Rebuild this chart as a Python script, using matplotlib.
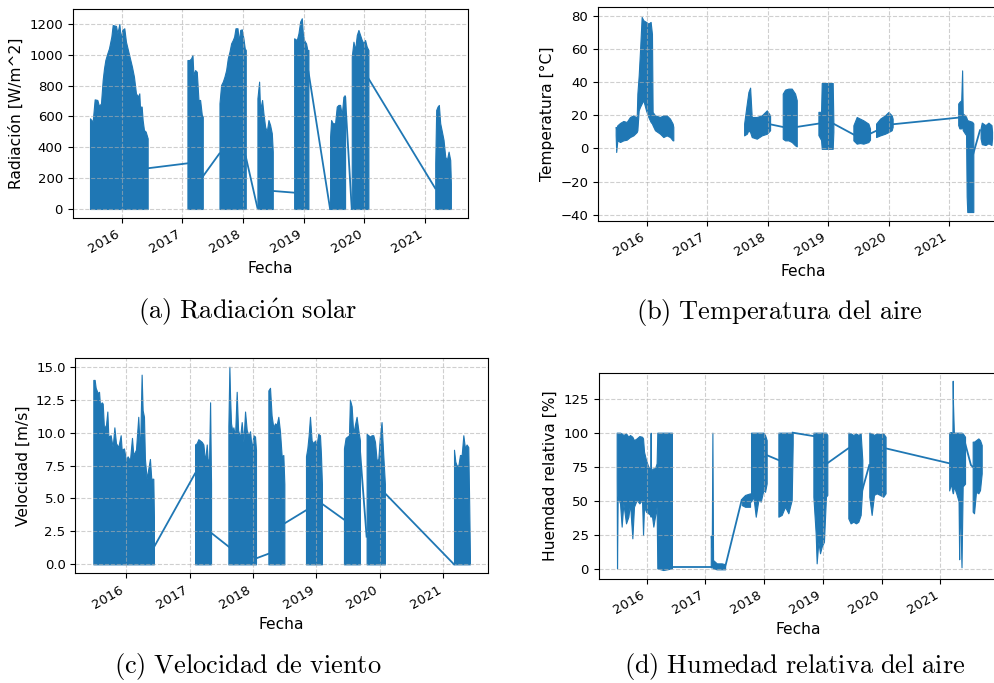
import matplotlib
matplotlib.use("Agg")
import matplotlib.pyplot as plt
import matplotlib.dates as mdates
from matplotlib.ticker import MultipleLocator
from datetime import datetime, timedelta

# (a) radiación solar : enveloppe haute (la basse est 0)
rad_seg_x = [
    [2015.478, 2015.522, 2015.555, 2015.599, 2015.626, 2015.659, 2015.687, 2015.709, 2015.731, 2015.764,
     2015.791, 2015.830, 2015.852, 2015.907, 2015.929, 2015.962, 2015.984, 2016.011, 2016.044, 2016.071,
     2016.104, 2016.137, 2016.170, 2016.203, 2016.236, 2016.269, 2016.291, 2016.302, 2016.330, 2016.346,
     2016.368, 2016.396, 2016.429],
    [2017.082, 2017.115, 2017.143, 2017.165, 2017.181, 2017.209, 2017.236, 2017.264, 2017.291, 2017.319, 2017.335],
    [2017.610, 2017.637, 2017.665, 2017.692, 2017.720, 2017.747, 2017.775, 2017.802, 2017.830, 2017.852,
     2017.874, 2017.907, 2017.929, 2017.951, 2017.978, 2018.005, 2018.027, 2018.044],
    [2018.236, 2018.264, 2018.280, 2018.313, 2018.335, 2018.363, 2018.390, 2018.418, 2018.445, 2018.473, 2018.489],
    [2018.841, 2018.885, 2018.912, 2018.940, 2018.967, 2018.984, 2019.005, 2019.038, 2019.060, 2019.077],
    [2019.434, 2019.451, 2019.478, 2019.516, 2019.544, 2019.571, 2019.599, 2019.626, 2019.654, 2019.681],
    [2019.791, 2019.819, 2019.846, 2019.874, 2019.901, 2019.929, 2019.956, 2019.984, 2020.011, 2020.038, 2020.066],
    [2021.165, 2021.181, 2021.203, 2021.225, 2021.247, 2021.275, 2021.302, 2021.330, 2021.357, 2021.385, 2021.412, 2021.423],
]
rad_seg_hi = [
    [588, 566, 711, 707, 668, 685, 837, 912, 966, 1010, 1042, 1118, 1193, 1187, 1139, 1200, 1107, 1161, 1172, 1085,
     1031, 977, 923, 858, 750, 729, 750, 664, 664, 577, 512, 502, 458],
    [966, 966, 977, 999, 869, 901, 890, 707, 707, 610, 600],
    [685, 804, 826, 858, 901, 977, 1020, 1074, 1096, 1118, 1172, 1172, 1085, 1161, 1165, 1107, 1042, 1031],
    [718, 826, 642, 707, 620, 534, 502, 577, 545, 491, 372],
    [1107, 1096, 1139, 1215, 1237, 1139, 1096, 1074, 1031, 1031],
    [469, 577, 556, 556, 664, 675, 675, 610, 729, 729],
    [988, 1085, 1031, 1128, 1161, 1128, 1096, 1074, 1096, 1053, 1031],
    [296, 642, 664, 675, 556, 502, 448, 339, 318, 372, 318, 166],
]
rad_link_x = [[2016.429, 2017.082], [2017.335, 2017.610], [2018.044, 2018.236], [2018.489, 2018.841],
              [2019.077, 2019.434], [2019.681, 2019.791], [2020.066, 2021.165]]
rad_link_y = [[264, 296], [210, 360], [340, 8], [117, 106], [891, 0], [730, 0], [847, 134]]

# (b) temperatura del aire
temp_seg_x = [
    [2015.487, 2015.496, 2015.515, 2015.559, 2015.614, 2015.669, 2015.724, 2015.779, 2015.835, 2015.846,
     2015.868, 2015.890, 2015.917, 2015.945, 2015.989, 2016.028, 2016.066, 2016.088, 2016.099, 2016.138,
     2016.221, 2016.276, 2016.331, 2016.386, 2016.430, 2016.441],
    [2017.610, 2017.654, 2017.681, 2017.709, 2017.736, 2017.819, 2017.902, 2017.985, 2018.040],
    [2018.249, 2018.288, 2018.343, 2018.398, 2018.453, 2018.481],
    [2018.839, 2018.883, 2018.894, 2019.076, 2019.087],
    [2019.418, 2019.473, 2019.528, 2019.583, 2019.666, 2019.693],
    [2019.793, 2019.860, 2019.941, 2019.997, 2020.052, 2020.068],
    [2021.150, 2021.170, 2021.200, 2021.215, 2021.225, 2021.260, 2021.280, 2021.290, 2021.300, 2021.380, 2021.400],
    [2021.520, 2021.540, 2021.600, 2021.650, 2021.700, 2021.710],
]
temp_seg_hi = [
    [12.9, 12.0, 13.9, 15.3, 16.5, 15.9, 18.9, 19.9, 18.5, 33.0, 44.0, 59.0, 79.2, 77.2, 76.2, 75.2, 76.2, 69.0,
     21.9, 19.9, 18.9, 19.9, 19.9, 17.9, 14.9, 12.9],
    [14.9, 27.0, 34.0, 36.6, 18.9, 18.9, 19.9, 22.9, 19.9],
    [33.0, 35.4, 36.0, 36.0, 33.0, 29.0],
    [22.0, 22.0, 39.4, 39.4, 16.0],
    [13.9, 18.9, 17.9, 16.9, 14.9, 11.9],
    [14.9, 17.9, 19.9, 21.9, 19.9, 17.9],
    [27.0, 28.0, 29.0, 47.0, 21.0, 20.0, 19.0, 18.0, 17.0, 16.0, 15.0],
    [12.0, 15.5, 14.0, 15.5, 14.0, 10.0],
]
temp_seg_lo = [
    [8.0, -2.2, 4.8, 3.8, 4.8, 5.2, 6.8, 7.8, 9.8, 10.9, 22.9, 25.0, 27.0, 29.0, 22.9, 18.9, 15.9, 14.9,
     13.9, 10.9, 8.8, 6.8, 7.8, 6.8, 4.8, 4.8],
    [7.8, 8.8, 10.9, 9.8, 6.8, 5.8, 7.8, 8.8, 10.9],
    [5.8, 4.8, 4.8, 3.8, 1.8, 1.2],
    [8.0, 5.0, -0.3, -0.3, 10.0],
    [4.8, 2.8, 3.2, 2.8, 3.8, 5.2],
    [6.8, 7.8, 8.8, 9.8, 10.9, 12.9],
    [14.0, 12.0, 12.0, 14.0, 11.0, 9.0, 8.0, -29.0, -38.4, -38.4, -38.4],
    [6.0, 2.5, 2.0, 3.0, 2.0, 6.0],
]
temp_link_x = [[2018.040, 2018.249], [2018.481, 2018.839], [2019.087, 2019.418], [2019.693, 2019.793],
               [2020.068, 2021.150], [2021.400, 2021.510]]
temp_link_y = [[14.5, 12.9], [12.9, 14.9], [14.9, 8.4], [8.8, 10.5], [14.5, 18.5], [-3.2, 10.9]]

# (c) velocidad de viento : enveloppe haute (la basse est 0)
wind_seg_x = [
    [2015.485, 2015.506, 2015.522, 2015.538, 2015.554, 2015.575, 2015.590, 2015.617, 2015.633, 2015.653,
     2015.685, 2015.706, 2015.722, 2015.758, 2015.790, 2015.817, 2015.842, 2015.879, 2015.916, 2015.932,
     2015.968, 2016.000, 2016.026, 2016.063, 2016.095, 2016.116, 2016.158, 2016.194, 2016.221, 2016.247,
     2016.263, 2016.284, 2016.299, 2016.326, 2016.378, 2016.399, 2016.431, 2016.441],
    [2017.087, 2017.113, 2017.139, 2017.166, 2017.192, 2017.218, 2017.245, 2017.271, 2017.287, 2017.308, 2017.324, 2017.339],
    [2017.612, 2017.628, 2017.639, 2017.654, 2017.675, 2017.691, 2017.717, 2017.743, 2017.765, 2017.796,
     2017.822, 2017.849, 2017.875, 2017.901, 2017.928, 2017.954, 2017.980, 2018.006, 2018.033, 2018.048],
    [2018.243, 2018.269, 2018.294, 2018.321, 2018.348, 2018.374, 2018.400, 2018.426, 2018.453, 2018.479, 2018.495],
    [2018.836, 2018.857, 2018.878, 2018.899, 2018.925, 2018.950, 2018.978, 2019.004, 2019.030, 2019.057, 2019.072, 2019.088],
    [2019.435, 2019.461, 2019.487, 2019.514, 2019.529, 2019.556, 2019.582, 2019.608, 2019.634, 2019.661, 2019.687],
    [2019.792, 2019.819, 2019.845, 2019.871, 2019.897, 2019.924, 2019.950, 2019.976, 2020.002, 2020.028, 2020.055, 2020.081],
    [2021.168, 2021.189, 2021.210, 2021.236, 2021.262, 2021.289, 2021.315, 2021.341, 2021.366, 2021.393, 2021.408, 2021.419],
]
wind_seg_hi = [
    [14.0, 14.0, 13.4, 13.2, 13.0, 13.1, 12.1, 12.3, 12.2, 10.3, 10.6, 11.6, 9.7, 9.8, 8.9, 10.4, 9.2, 8.9, 9.8, 8.7,
     8.8, 7.9, 8.2, 7.9, 9.6, 8.3, 8.7, 11.2, 8.4, 14.4, 11.7, 11.2, 8.0, 6.5, 8.0, 6.5, 6.5, 3.6],
    [9.1, 9.2, 9.5, 9.4, 9.3, 9.1, 7.8, 9.1, 7.9, 8.0, 12.3, 6.1],
    [10.5, 15.0, 12.7, 10.7, 10.1, 10.4, 9.7, 13.1, 10.2, 9.6, 10.8, 9.3, 11.6, 10.2, 9.8, 10.1, 8.7, 9.8, 9.7, 8.7],
    [13.2, 13.4, 11.3, 10.4, 10.7, 10.6, 11.2, 10.1, 8.2, 8.3, 6.1],
    [8.2, 8.8, 9.8, 11.2, 9.4, 9.2, 9.4, 9.1, 9.9, 9.8, 8.4, 6.1],
    [8.8, 9.6, 9.7, 9.8, 12.5, 12.0, 9.9, 10.6, 11.2, 10.2, 9.4],
    [9.9, 9.8, 9.7, 9.8, 9.8, 9.3, 7.9, 8.0, 9.7, 10.8, 8.3, 6.1],
    [8.7, 7.8, 7.5, 7.5, 8.3, 8.3, 9.8, 8.8, 9.1, 8.9, 4.4, 0.6],
]
wind_link_x = [[2016.441, 2017.087], [2017.339, 2017.628], [2018.048, 2018.243], [2018.495, 2018.836],
               [2019.088, 2019.435], [2019.687, 2019.792], [2020.081, 2021.168]]
wind_link_y = [[1.3, 6.9], [2.4, 1.3], [0.45, 0.8], [3.1, 4.1], [4.6, 3.4], [8.7, 2.1], [5.4, 0.0]]

# (d) humedad relativa
hum_seg_x = [
    [2015.489, 2015.495, 2015.506, 2015.546, 2015.574, 2015.603, 2015.648, 2015.688, 2015.716, 2015.756,
     2015.784, 2015.830, 2015.875, 2015.921, 2015.938, 2015.955, 2015.989, 2016.028, 2016.062, 2016.068,
     2016.074, 2016.085, 2016.114, 2016.142, 2016.170, 2016.182, 2016.284, 2016.431],
    [2017.090, 2017.107, 2017.118, 2017.129, 2017.192, 2017.277, 2017.322, 2017.334],
    [2017.617, 2017.674, 2017.759],
    [2017.776, 2017.816, 2017.856, 2017.901, 2017.941, 2017.986, 2018.015, 2018.043],
    [2018.242, 2018.298, 2018.355, 2018.412, 2018.469, 2018.486],
    [2018.838, 2018.877, 2018.894, 2018.923, 2018.951, 2018.980, 2019.019, 2019.053, 2019.076],
    [2019.434, 2019.473, 2019.519, 2019.564, 2019.604, 2019.644, 2019.672],
    [2019.791, 2019.831, 2019.871, 2019.916, 2019.972, 2020.029, 2020.069],
    [2021.150, 2021.180, 2021.205, 2021.210, 2021.215, 2021.230, 2021.270, 2021.310, 2021.320, 2021.330,
     2021.360, 2021.380, 2021.420],
    [2021.550, 2021.573, 2021.607, 2021.647, 2021.675, 2021.704],
]
hum_seg_hi = [
    [100.5, 100.5, 100.5, 100.5, 100, 98.8, 100, 97.5, 98.8, 97.5, 95, 96.3, 98, 97.5, 96.3, 86.5, 80.4, 75.5, 75,
     100.5, 75, 73, 74.3, 74.3, 78, 100.5, 100.5, 100.5],
    [24.8, 16.7, 100.5, 6.9, 4.4, 4.4, 3.9, 2],
    [52.2, 54.7, 55.9],
    [100.5, 100.5, 100.5, 100.5, 100.5, 100.5, 98.8, 95],
    [100.5, 100.5, 100.5, 100.5, 100.5, 100.5],
    [100.5, 100.5, 100.5, 100.5, 100.5, 100.5, 100.5, 100.5, 98.8],
    [100.5, 100, 98.8, 100, 98.8, 100, 80.4],
    [100.5, 100, 98.8, 100, 99.5, 100, 97.5],
    [100.5, 101, 100, 138.7, 122, 100.5, 100.5, 100.5, 100.5, 100.5, 100.5, 100, 97.5],
    [93.9, 93.9, 95, 96.3, 95, 91.4],
]
hum_seg_lo = [
    [68, 0.7, 53.4, 48.5, 31.4, 48.5, 33.8, 38.7, 48.5, 22.8, 46, 51, 48.5, 51, 25.2, 46, 42.4, 41.2, 40,
     38.7, 40, 41.2, 31.4, 38.7, 46, 0.7, -0.5, 0.7],
    [1.5, 1.5, 1.5, 0.7, 0, 0, 0, 0],
    [47.3, 46, 46],
    [49.8, 53.4, 38.7, 51, 49.8, 58.3, 57, 63.2],
    [38.7, 40, 46, 41.2, 51, 92.6],
    [53.4, 26.5, 4.4, 20.3, 11.8, 16.7, 20.3, 53.4, 54.7],
    [37.5, 33.8, 35, 33.8, 35, 40, 60.8],
    [53.4, 40, 54.7, 55.9, 54.7, 53.4, 55.9],
    [58, 63, 57, 56, 56, 61, 56, 50, 7.4, 56, 1.5, 61, 63],
    [42.4, 41.2, 57, 55.9, 58.3, 70.6],
]
hum_link_x = [[2016.431, 2017.090], [2017.334, 2017.617], [2018.043, 2018.242], [2018.486, 2018.838],
              [2019.076, 2019.434], [2019.672, 2019.791], [2020.069, 2021.150], [2021.420, 2021.520, 2021.550]]
hum_link_y = [[1.5, 1.5], [1.5, 51], [84, 80.4], [100.5, 98], [78, 89], [58.3, 76.7], [89, 78], [93, 76.7, 75.5]]

captions = [r"$\mathrm{(a)\ Radiaci\acute{o}n\ solar}$",
            r"$\mathrm{(b)\ Temperatura\ del\ aire}$",
            r"$\mathrm{(c)\ Velocidad\ de\ viento}$",
            r"$\mathrm{(d)\ Humedad\ relativa\ del\ aire}$"]

plt.rcParams["mathtext.fontset"] = "cm"

W, H = 995, 683


def yr2date(y):
    y0 = int(y)
    return datetime(y0, 1, 1) + timedelta(days=(y - y0) * 365.25)


def dates(years):
    return [yr2date(y) for y in years]


def make_ax(fig, left, top, right, bottom):
    # boîte en pixels (origine en haut à gauche)
    return fig.add_axes([left / W, 1 - bottom / H, (right - left) / W, (bottom - top) / H])


def draw(ax, seg_x, seg_hi, seg_lo, link_x, link_y):
    for lx, ly in zip(link_x, link_y):
        ax.plot(dates(lx), ly, color="C0", lw=1.3)
    for i, xs in enumerate(seg_x):
        lo = seg_lo[i] if seg_lo is not None else 0
        ax.fill_between(dates(xs), lo, seg_hi[i], color="C0", lw=0.8)


def style(ax, xlim, ylim, ystep, ylabel):
    ax.set_xlim(yr2date(xlim[0]), yr2date(xlim[1]))
    ax.set_ylim(*ylim)
    ax.yaxis.set_major_locator(MultipleLocator(ystep))
    ax.xaxis.set_major_locator(mdates.YearLocator())
    ax.xaxis.set_major_formatter(mdates.DateFormatter("%Y"))
    ax.tick_params(labelsize=9.5)
    ax.tick_params(axis="x", labelrotation=30)
    for t in ax.get_xticklabels():
        t.set_ha("right")
    ax.grid(True, linestyle="--", alpha=0.6)
    ax.set_xlabel("Fecha", fontsize=11.2)
    ax.set_ylabel(ylabel, fontsize=11.2)


fig = plt.figure(figsize=(W / 100, H / 100), dpi=100)

ax1 = make_ax(fig, 72.7, 9.3, 468, 218)
draw(ax1, rad_seg_x, rad_seg_hi, None, rad_link_x, rad_link_y)
style(ax1, (2015.193, 2021.705), (-58.4, 1295), 200, "Radiación [W/m^2]")

ax2 = make_ax(fig, 598, 7, 1009, 221)
draw(ax2, temp_seg_x, temp_seg_hi, temp_seg_lo, temp_link_x, temp_link_y)
style(ax2, (2015.195, 2021.99), (-43.8, 85.2), 20, "Temperatura [°C]")

ax3 = make_ax(fig, 75.3, 358.3, 487.7, 573.3)
draw(ax3, wind_seg_x, wind_seg_hi, None, wind_link_x, wind_link_y)
style(ax3, (2015.201, 2021.699), (-0.68, 15.64), 2.5, "Velocidad [m/s]")

ax4 = make_ax(fig, 598.7, 372.7, 998.8, 579)
draw(ax4, hum_seg_x, hum_seg_hi, hum_seg_lo, hum_link_x, hum_link_y)
style(ax4, (2015.183, 2021.995), (-7.1, 144.6), 25, "Huemdad relativa [%]")

# légendes des sous-figures
fig.text(248 / W, 1 - 312 / H, captions[0], ha="center", va="center", fontsize=19)
fig.text(779 / W, 1 - 312 / H, captions[1], ha="center", va="center", fontsize=19)
fig.text(248 / W, 1 - 666 / H, captions[2], ha="center", va="center", fontsize=19)
fig.text(795 / W, 1 - 666 / H, captions[3], ha="center", va="center", fontsize=19)

fig.savefig("out.png", dpi=100)
